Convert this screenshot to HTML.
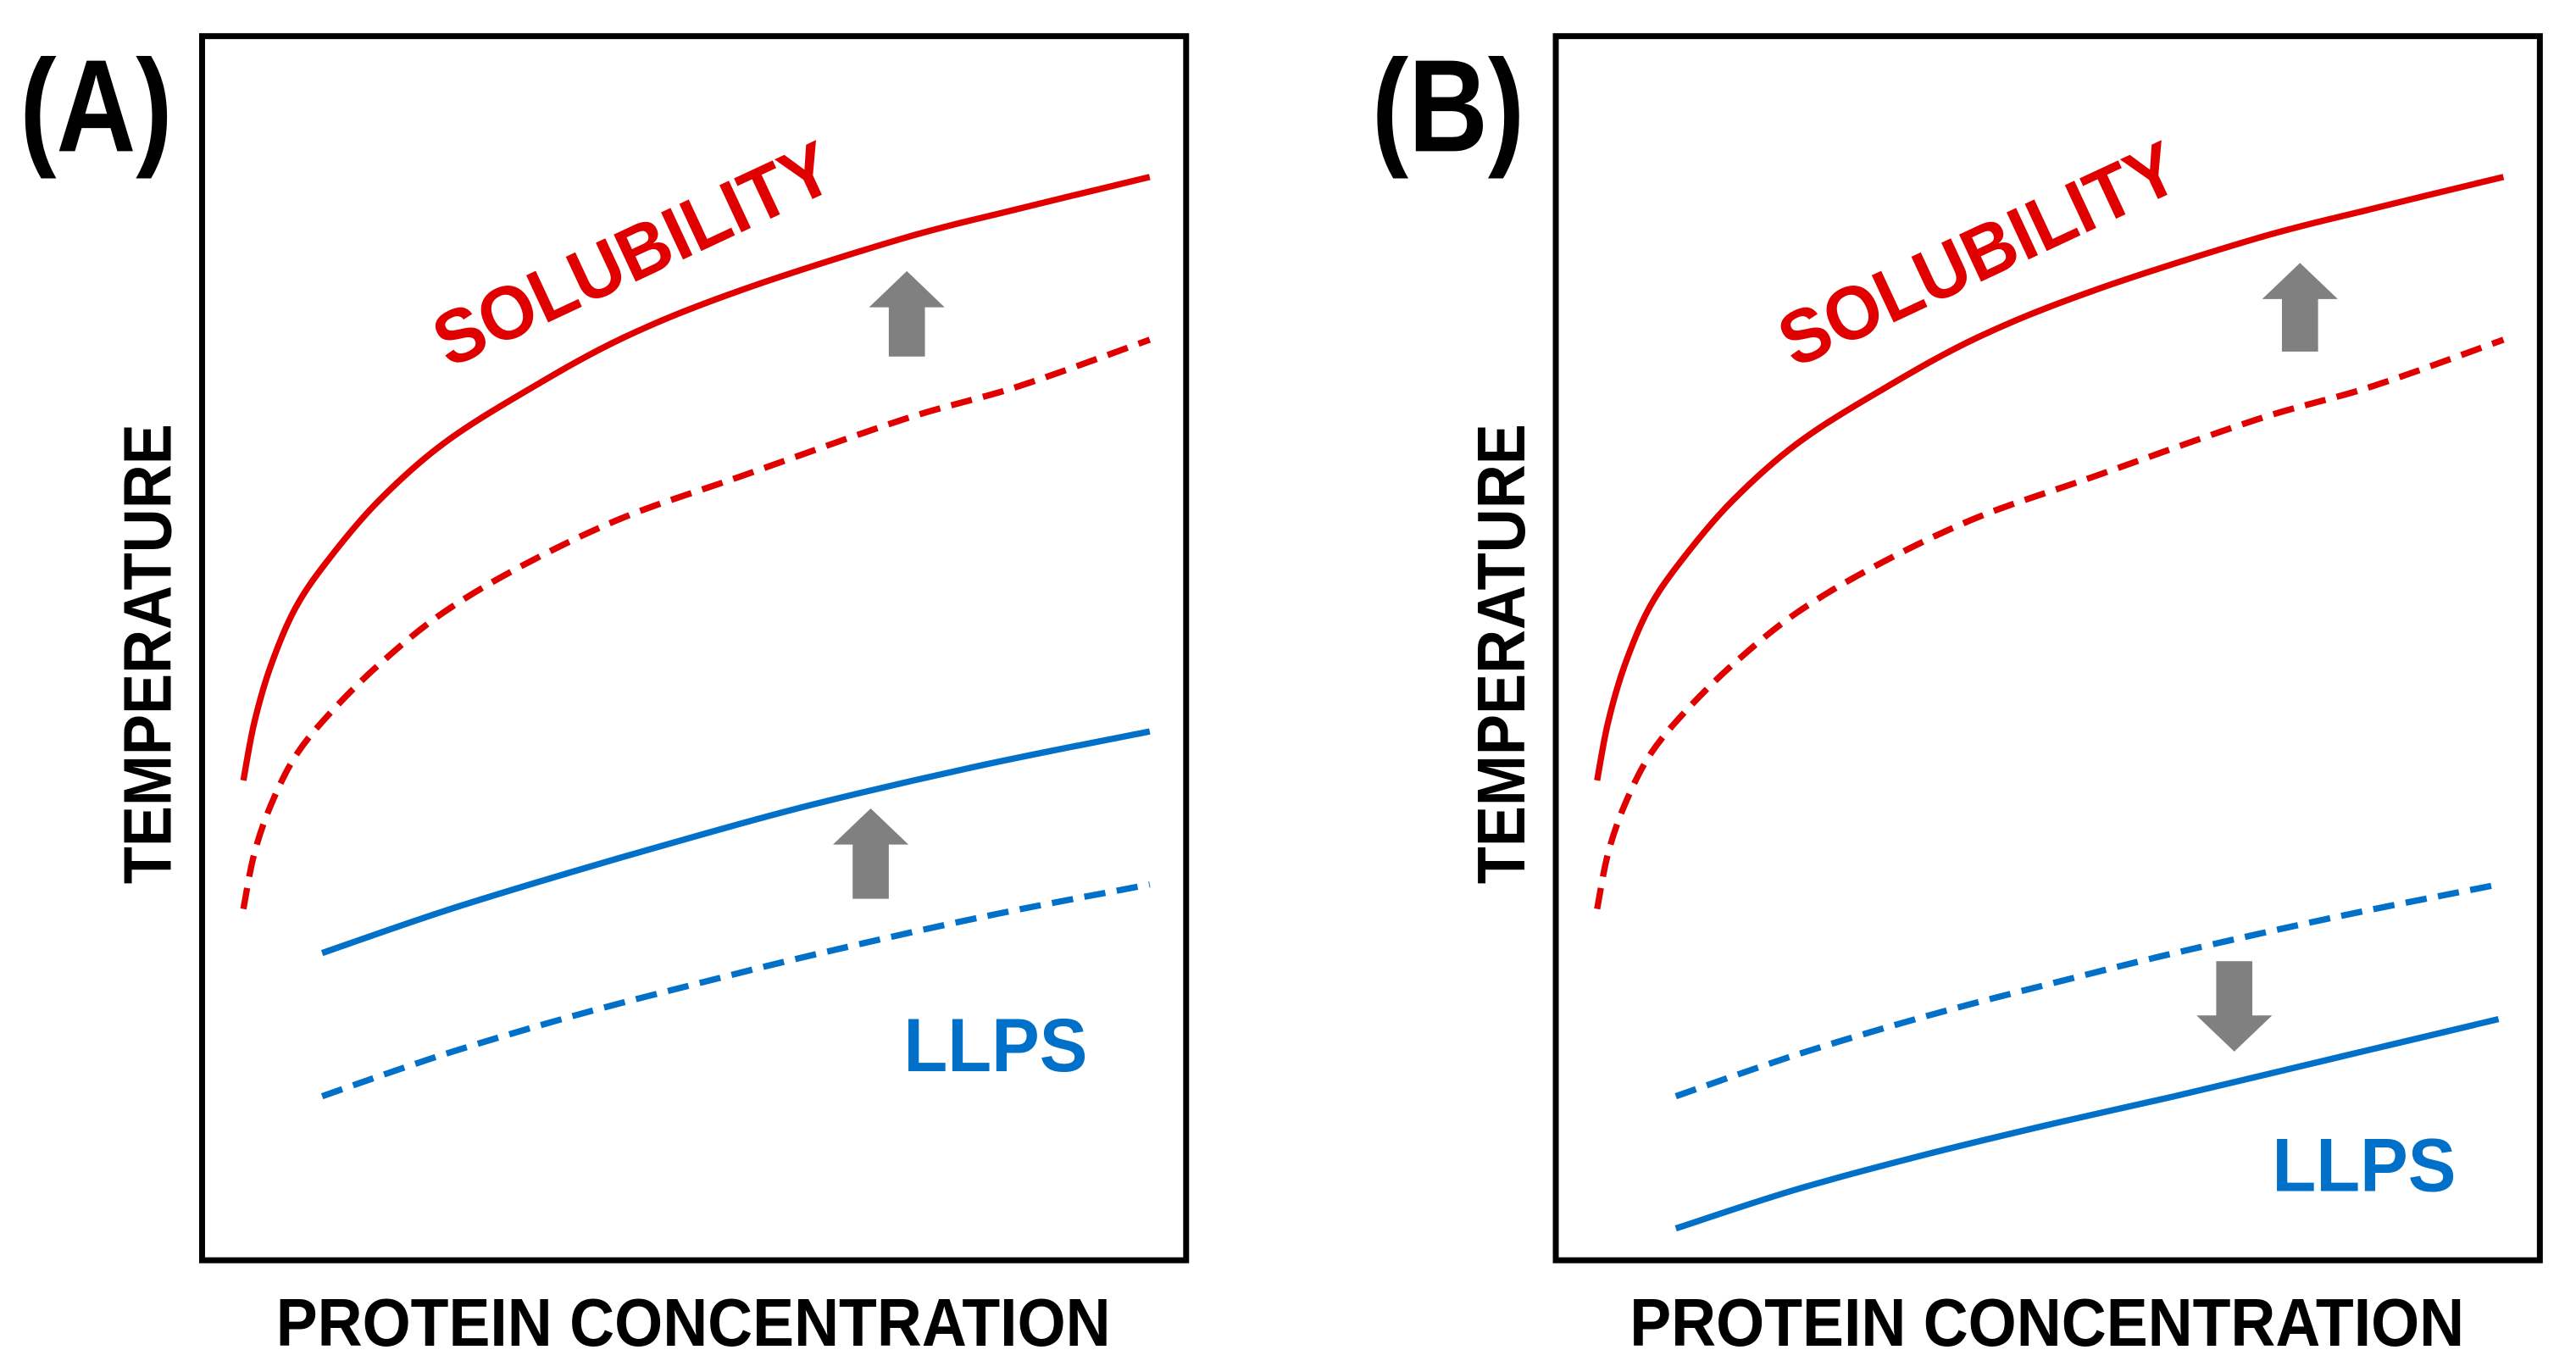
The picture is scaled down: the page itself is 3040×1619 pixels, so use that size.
<!DOCTYPE html>
<html><head><meta charset="utf-8"><style>
html,body{margin:0;padding:0;background:#fff;}
svg{display:block;}
text{font-family:"Liberation Sans",sans-serif;font-weight:bold;}
</style></head><body>
<svg id="fig" width="3040" height="1619" viewBox="0 0 1568 835" preserveAspectRatio="none" xmlns="http://www.w3.org/2000/svg">
<g id="pA"></g>
<g id="pB"></g>
</svg>
<script>
// data in axis units (0-100 each axis)
const solX = [4.2, 5.3, 7.0, 9.5, 12.9, 17.9, 24.5, 32.9, 42.9, 54.6, 71.3, 83.0, 96.3];
const solHighY = [39.2, 43.9, 48.6, 53.3, 57.3, 62.0, 66.7, 71.0, 75.4, 79.2, 83.5, 85.9, 88.5];
const solLowY = [28.7, 33.2, 37.2, 41.2, 44.6, 48.6, 52.9, 56.9, 60.7, 64.0, 68.7, 71.4, 75.2];
const llpsX = [12.2, 24.5, 37.9, 51.3, 62.9, 79.6, 96.3];
const llpsA_solidY = [25.1, 28.5, 31.8, 34.9, 37.4, 40.5, 43.2];
const llpsA_dashY = [13.4, 16.8, 20.0, 22.8, 25.1, 28.1, 30.7];
const llpsB_X = [12.2, 24.5, 37.9, 51.3, 62.9, 79.6, 95.8];
const llpsB_solidY = [2.6, 5.8, 8.7, 11.3, 13.4, 16.6, 19.7];
const llpsB_dashY = [13.4, 16.8, 20.0, 22.8, 25.1, 28.1, 30.7];

const NS = "http://www.w3.org/2000/svg";
function mk(tag, attrs, parent){const e=document.createElementNS(NS,tag);for(const k in attrs)e.setAttribute(k,attrs[k]);parent.appendChild(e);return e;}
function pathD(pts){
  let d=`M${pts[0][0]},${pts[0][1]}`;
  for(let i=0;i<pts.length-1;i++){
    const p0=pts[i-1]||pts[i],p1=pts[i],p2=pts[i+1],p3=pts[i+2]||p2;
    const c1=[p1[0]+(p2[0]-p0[0])/6,p1[1]+(p2[1]-p0[1])/6];
    const c2=[p2[0]-(p3[0]-p1[0])/6,p2[1]-(p3[1]-p1[1])/6];
    d+=` C${c1[0]},${c1[1]} ${c2[0]},${c2[1]} ${p2[0]},${p2[1]}`;
  }
  return d;
}
function panel(g, ox, cfg){
  const L=ox+123, R=ox+722, T=22, B=767;
  const sx=v=>L+v*(R-L)/100, sy=v=>B-v*(B-T)/100;
  const box=mk('rect',{x:L,y:T,width:R-L,height:B-T,fill:'none',stroke:'#000','stroke-width':3.6},g);
  
  
  function line(xs,ys,color,dash,name){
    const pts=xs.map((x,i)=>[sx(x),sy(ys[i])]);
    const p=mk('path',{d:pathD(pts),fill:'none',stroke:color,'stroke-width':3.8,'stroke-linecap':'butt'},g);
    if(dash)p.setAttribute('stroke-dasharray','13 7');
    
    
  }
  line(solX,solHighY,'#e00000',false,'solubility-curve-solid');
  line(solX,solLowY,'#e00000',true,'solubility-curve-dashed');
  line(cfg.bsx,cfg.bsy,'#0070c8',false,'llps-curve-solid');
  line(cfg.bdx,cfg.bdy,'#0070c8',true,'llps-curve-dashed');
  function arrow(cx,y0,y1,up,name){
    cx+=ox;
    const hw=23,sw=11,hh=22;
    let pts;
    if(up) pts=[[cx,y0],[cx+hw,y0+hh],[cx+sw,y0+hh],[cx+sw,y1],[cx-sw,y1],[cx-sw,y0+hh],[cx-hw,y0+hh]];
    else pts=[[cx,y1],[cx+hw,y1-hh],[cx+sw,y1-hh],[cx+sw,y0],[cx-sw,y0],[cx-sw,y1-hh],[cx-hw,y1-hh]];
    const a=mk('polygon',{points:pts.map(p=>p.join(',')).join(' '),fill:'#808080'},g);
    
    
  }
  arrow(cfg.a1[0],cfg.a1[1],cfg.a1[2],true,'solubility-shift-arrow');
  arrow(cfg.a2[0],cfg.a2[1],cfg.a2[2],cfg.a2up,'llps-shift-arrow');
  function txt(s,attrs,name){const t=mk('text',attrs,g);t.textContent=s;return t;}
  txt(cfg.label,{x:ox+cfg.lx,y:92,'font-size':80,textLength:93,lengthAdjust:'spacingAndGlyphs',fill:'#000'},'panel-label');
  txt('TEMPERATURE',{x:0,y:0,'font-size':41,textLength:280,lengthAdjust:'spacingAndGlyphs',fill:'#000','text-anchor':'middle',transform:`translate(${ox+104},${398}) rotate(-90)`},'y-axis-title');
  txt('PROTEIN CONCENTRATION',{x:ox+422,y:819,'font-size':41,textLength:508,lengthAdjust:'spacingAndGlyphs',fill:'#000','text-anchor':'middle'},'x-axis-title');
  txt('SOLUBILITY',{x:0,y:0,'font-size':46,textLength:262,lengthAdjust:'spacingAndGlyphs',fill:'#e00000','text-anchor':'middle',transform:`translate(${ox+cfg.solx},${cfg.soly}) rotate(-25)`},'solubility-label');
  txt('LLPS',{x:ox+cfg.llx,y:cfg.lly,'font-size':46,textLength:112,lengthAdjust:'spacingAndGlyphs',fill:'#0070c8'},'llps-label');
}
panel(document.getElementById('pA'),0,{bsx:llpsX,bsy:llpsA_solidY,bdx:llpsX,bdy:llpsA_dashY,
  a1:[552,165,217],a2:[530,492,547],a2up:true,label:'(A)',lx:12,solx:392,soly:169,llx:550,lly:652});
panel(document.getElementById('pB'),824,{bsx:llpsB_X,bsy:llpsB_solidY,bdx:llpsB_X,bdy:llpsB_dashY,
  a1:[576,160,214],a2:[536,585,640],a2up:false,label:'(B)',lx:11,solx:387,soly:169,llx:559,lly:725});
</script>
</body></html>
